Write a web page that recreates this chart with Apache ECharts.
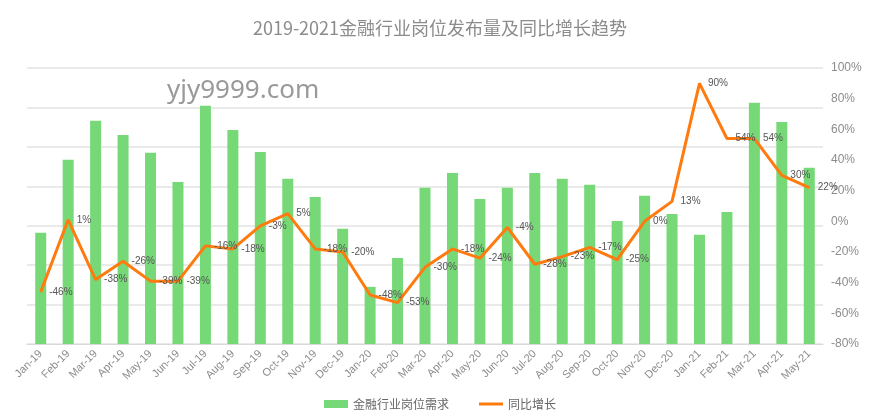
<!DOCTYPE html>
<html>
<head>
<meta charset="utf-8">
<script src="https://cdn.jsdelivr.net/npm/echarts@6/dist/echarts.min.js"></script>
<style>html,body{margin:0;padding:0;background:#fff}#main{width:880px;height:417px}</style>
</head>
<body>
<div id="main"></div>
<script>
var months = ['Jan-19','Feb-19','Mar-19','Apr-19','May-19','Jun-19','Jul-19','Aug-19','Sep-19','Oct-19','Nov-19','Dec-19',
    'Jan-20','Feb-20','Mar-20','Apr-20','May-20','Jun-20','Jul-20','Aug-20','Sep-20','Oct-20','Nov-20','Dec-20',
    'Jan-21','Feb-21','Mar-21','Apr-21','May-21'];
// 岗位需求（相对量，读图估计）
var demand = [2820,4670,5660,5300,4850,4110,6040,5430,4870,4190,3730,2920,
    1450,2180,3960,4340,3680,3960,4340,4190,4040,3120,3760,3300,
    2770,3350,6120,5630,4470];
// 同比增长 %
var growth = [-46,1,-38,-26,-39,-39,-16,-18,-3,5,-18,-20,
    -48,-53,-30,-18,-24,-4,-28,-23,-17,-25,0,13,
    90,54,54,30,22];

var myChart = echarts.init(document.getElementById('main'));
var options = {
    title: {
        text: '2019-2021金融行业岗位发布量及同比增长趋势',
        left: 'center', top: 14,
        textStyle: {color: '#8c8c8c', fontSize: 18, fontWeight: 'normal', fontFamily: 'Noto Sans CJK SC'}
    },
    graphic: [{
        type: 'text', left: 167, top: 78,
        style: {text: 'yjy9999.com', fill: '#9a9a9a', font: '26px "Noto Sans"'}
    }],
    legend: {
        bottom: 2, itemGap: 30, itemWidth: 24, itemHeight: 8,
        textStyle: {color: '#666', fontSize: 12, fontFamily: 'Noto Sans CJK SC'},
        data: [{name: '金融行业岗位需求', icon: 'rect'}, {name: '同比增长', icon: 'path://M0,0H24V3H0Z'}]
    },
    grid: {left: 27, right: 57, top: 68, bottom: 73},
    xAxis: {
        type: 'category', data: months,
        axisTick: {show: false},
        axisLine: {lineStyle: {color: '#d9d9d9'}},
        axisLabel: {rotate: 45, color: '#8c8c8c', fontSize: 11, interval: 0}
    },
    yAxis: [{
        type: 'value', min: 0, max: 7000, interval: 1000,
        axisLabel: {show: false},
        splitLine: {lineStyle: {color: '#e3e3e3', width: 1.5}}
    }, {
        type: 'value', min: -80, max: 100, interval: 20, position: 'right',
        axisLabel: {formatter: '{value}%', color: '#8c8c8c', fontSize: 12},
        splitLine: {show: false}
    }],
    series: [{
        name: '金融行业岗位需求', type: 'bar', data: demand,
        barWidth: 11, itemStyle: {color: '#77d877'}
    }, {
        name: '同比增长', type: 'line', yAxisIndex: 1, data: growth,
        symbol: 'circle', symbolSize: 1, showSymbol: true,
        lineStyle: {color: '#ff7a0f', width: 3},
        itemStyle: {color: '#ff7a0f'},
        label: {show: true, position: 'right', distance: 8, formatter: '{c}%', color: '#555', fontSize: 10}
    }]
};
myChart.setOption(options);
</script>
</body>
</html>
